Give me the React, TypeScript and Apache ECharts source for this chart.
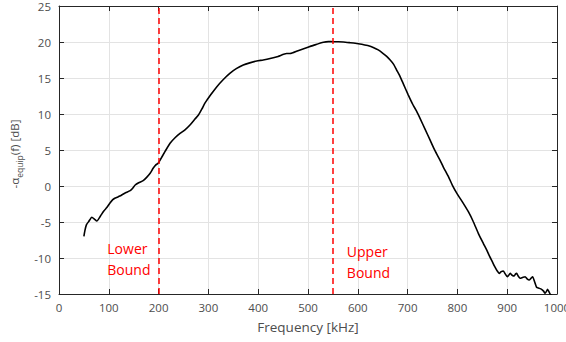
import React, { useEffect, useRef } from "react";
import * as echarts from "echarts";

const freqKHz = [50,52,55,60,66,71,76,83,90,96,102,108,112,117,122,132,143,148,153,160,169,176,183,189,194,199,203,213,223,233,243,253,263,273,280,287,293,305,317,330,343,356,370,383,397,410,424,440,457,464,480,497,514,531,541,551,561,571,585,598,608,620,631,641,651,658,665,672,678,685,691,701,711,718,725,735,745,755,765,772,782,790,799,810,822,832,842,852,859,865,870,875,880,884,888,892,896,900,903,906,910,914,917,919,922,926,931,936,940,944,948,951,955,959,964,969,973,976,979,981,984,986,992,1000];
const alphaDb = [-7.0,-6.2,-5.4,-4.9,-4.35,-4.6,-4.86,-4.2,-3.47,-3.0,-2.4,-1.9,-1.7,-1.55,-1.4,-1.0,-0.65,-0.3,0.14,0.45,0.74,1.2,1.76,2.46,2.9,3.15,3.6,4.8,5.93,6.7,7.3,7.8,8.47,9.3,9.86,10.7,11.5,12.7,13.8,14.8,15.65,16.3,16.8,17.1,17.36,17.5,17.7,18.0,18.4,18.4,18.8,19.2,19.6,19.96,20.05,20.04,20.03,20.0,19.9,19.8,19.7,19.5,19.25,18.9,18.4,18.0,17.5,16.9,16.1,15.2,14.26,12.7,11.25,10.4,9.4,7.9,6.4,4.9,3.6,2.6,1.3,0.1,-1.02,-2.2,-3.57,-4.96,-6.57,-7.96,-8.9,-9.82,-10.5,-11.2,-11.8,-12.13,-11.9,-11.8,-12.2,-12.6,-12.4,-12.13,-12.4,-12.5,-12.2,-12.13,-12.5,-12.82,-12.7,-12.6,-12.9,-13.06,-12.8,-12.6,-13.3,-14.07,-14.2,-14.35,-14.6,-14.9,-14.6,-14.35,-14.7,-15.0,-15.3,-15.4];

const bounds = [200, 550];
const boundLabels = [
  { text: "Lower\nBound", coord: [97, -10.1] },
  { text: "Upper\nBound", coord: [578, -10.5] },
];

const FONT = "'Open Sans', 'Noto Sans', sans-serif";

export default function App() {
  const ref = useRef<HTMLDivElement>(null);
  useEffect(() => {
    if (!ref.current) return;
    document.body.style.margin = "0";
    document.body.style.overflow = "hidden";
    const chart = echarts.init(ref.current, undefined, { renderer: "svg" });
    const axisLine = { show: true, onZero: false, lineStyle: { color: "#262626", width: 1 } };
    const tick = { show: true, inside: true, length: 5, lineStyle: { color: "#262626" } };
    chart.setOption({
      animation: false,
      backgroundColor: "#ffffff",
      textStyle: { fontFamily: FONT },
      grid: { left: 59, right: 9, top: 6, bottom: 48, containLabel: false, outerBoundsMode: "none" },
      graphic: [
        {
          type: "text",
          x: 16,
          y: 154,
          rotation: Math.PI / 2,
          style: {
            text: "{a|-α}{s|equip}{a|(f) [dB]}",
            align: "center",
            verticalAlign: "middle",
            fill: "#4d4d4d",
            rich: {
              a: { fontSize: 11.5, fill: "#4d4d4d", fontFamily: FONT, verticalAlign: "top", lineHeight: 16 },
              s: { fontSize: 8.5, fill: "#4d4d4d", fontFamily: FONT, verticalAlign: "bottom", lineHeight: 11 },
            },
          },
        },
      ],
      xAxis: [
        {
          type: "value", min: 0, max: 1000, interval: 100, position: "bottom",
          name: "Frequency [kHz]", nameLocation: "middle", nameGap: 26,
          nameTextStyle: { color: "#4d4d4d", fontSize: 13.5, fontFamily: FONT },
          axisLine, axisTick: tick,
          axisLabel: { color: "#4d4d4d", fontSize: 11.5, margin: 7, fontFamily: FONT, formatter: (v: number) => String(v) },
          splitLine: { show: true, lineStyle: { color: "#e3e3e3", width: 1 } },
        },
        {
          type: "value", min: 0, max: 1000, interval: 100, position: "top",
          axisLine, axisTick: tick, axisLabel: { show: false }, splitLine: { show: false },
        },
      ],
      yAxis: [
        {
          type: "value", min: -15, max: 25, interval: 5, position: "left",
          axisLine, axisTick: tick,
          axisLabel: { color: "#4d4d4d", fontSize: 11.5, margin: 8, fontFamily: FONT },
          splitLine: { show: true, lineStyle: { color: "#e3e3e3", width: 1 } },
        },
        {
          type: "value", min: -15, max: 25, interval: 5, position: "right",
          axisLine, axisTick: tick, axisLabel: { show: false }, splitLine: { show: false },
        },
      ],
      series: [
        {
          type: "line",
          data: freqKHz.map((f, i) => [f, alphaDb[i]]),
          showSymbol: false,
          symbol: "none",
          smooth: 0.2,
          clip: true,
          lineStyle: { color: "#000000", width: 1.6 },
          markLine: {
            silent: true,
            symbol: "none",
            label: { show: false },
            lineStyle: { color: "#ff0000", type: [6, 4], width: 1.5 },
            data: bounds.map((b) => ({ xAxis: b })),
          },
          markPoint: {
            silent: true,
            symbol: "circle",
            symbolSize: 0,
            data: boundLabels.map((l) => ({
              coord: l.coord,
              label: {
                show: true, position: "inside", formatter: l.text, align: "left", verticalAlign: "middle",
                color: "#ff0000", fontSize: 14, lineHeight: 21, fontFamily: FONT,
              },
            })),
          },
        },
      ],
    });
    return () => chart.dispose();
  }, []);
  return <div ref={ref} style={{ width: 566, height: 342, position: "absolute", left: 0, top: 0 }} />;
}
